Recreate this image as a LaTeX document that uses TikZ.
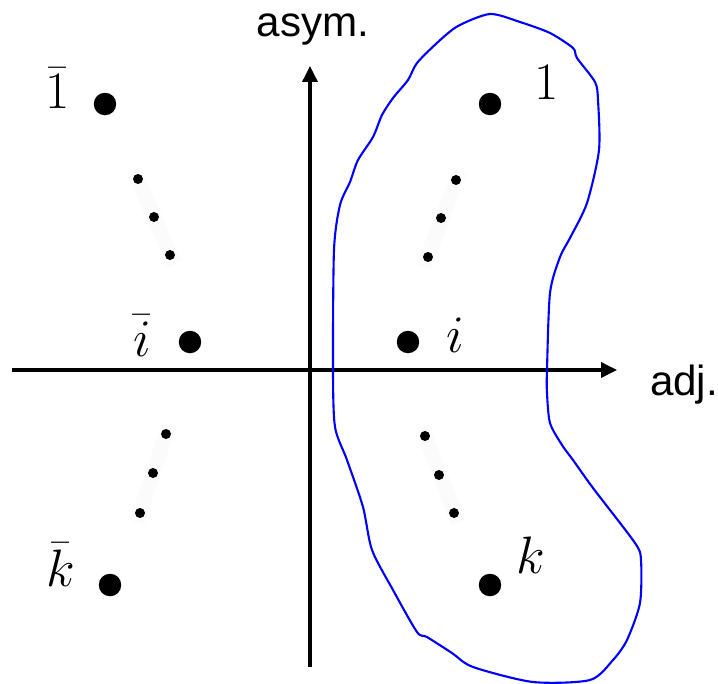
\RequirePackage{fix-cm}
\documentclass[tikz,border=0pt]{standalone}
\usepackage{fontspec}
\setsansfont{Liberation Sans}
\usepackage{tikz}
\usetikzlibrary{arrows.meta}

\begin{document}
\begin{tikzpicture}[
  x=0.02cm, y=-0.02cm,
  axis/.style={line width=1.8pt, -{Triangle[length=9pt, width=8.5pt]}},
  bigdot/.style={circle, fill=black, inner sep=0pt, minimum size=0.45cm},
  smalldot/.style={circle, fill=black, inner sep=0pt, minimum size=0.2cm},
  band/.style={line width=0.3cm, black!1.5, line cap=butt},
  elem/.style={inner sep=0pt, font=\fontsize{30}{36}\selectfont},
  axlabel/.style={inner sep=0pt, font=\sffamily\fontsize{24}{28}\selectfont}
]
  \useasboundingbox (0,0) rectangle (718,684);

  % faint bands behind the small dots
  \draw[band] (134,170) -- (174,264);
  \draw[band] (460,171) -- (424,266);
  \draw[band] (169,425) -- (137,522);
  \draw[band] (422,427) -- (458,522);

  % axes
  \coordinate (xl) at (12,370);
  \coordinate (xr) at (617,370);
  \coordinate (yb) at (310,667);
  \coordinate (yt) at (310,66);
  \draw[axis] (xl) -- (xr);
  \draw[axis] (yb) -- (yt);
  \node[axlabel] (asym) at (313,30) {asym.};
  \node[axlabel] (adj) at (684,385) {adj.};

  % big dots
  \node[bigdot] (onebar) at (105,104) {};
  \node[bigdot] (one) at (490,104) {};
  \node[bigdot] (ibar) at (190,342) {};
  \node[bigdot] (i) at (408,342) {};
  \node[bigdot] (kbar) at (110,585) {};
  \node[bigdot] (k) at (490,585) {};

  % small dots
  \foreach \n/\x/\y in {a1/138/179, a2/154/217, a3/170/255,
                        b1/456/180, b2/441/218, b3/428/257,
                        c1/166/434, c2/153/473, c3/140/513,
                        d1/425/436, d2/439/475, d3/454/513}
    \node[smalldot] (s\n) at (\x,\y) {};

  % labels
  \node[elem] (lonebar) at (58,88) {$\bar{1}$};
  \node[elem] (lone) at (547,83) {$1$};
  \node[elem] (libar) at (142,336) {$\bar{i}$};
  \node[elem] (li) at (455,335) {$i$};
  \node[elem] (lkbar) at (61,565) {$\bar{k}$};
  \node[elem] (lk) at (531,555) {$k$};

  % region
  \draw[blue, line width=1.2pt] plot[smooth cycle, tension=0.45] coordinates {
    (490,14) (520,22) (550,33) (573,48) (577,58) (595,82) (598,100)
    (599,150) (587,203) (570,238) (560,257) (550,293) (547,370)
    (547,393) (550,423) (562,445) (573,460) (593,488) (635,543)
    (641,560) (640,603) (627,640) (613,660) (590,680) (533,682)
    (473,667) (452,653) (427,637) (417,632) (393,590) (372,550)
    (363,507) (347,460) (335,427) (333,370) (334,250)
    (340,205) (350,182) (358,160) (373,137) (382,115) (393,98)
    (408,80) (417,63) (438,42) (458,26)};
\end{tikzpicture}
\end{document}
